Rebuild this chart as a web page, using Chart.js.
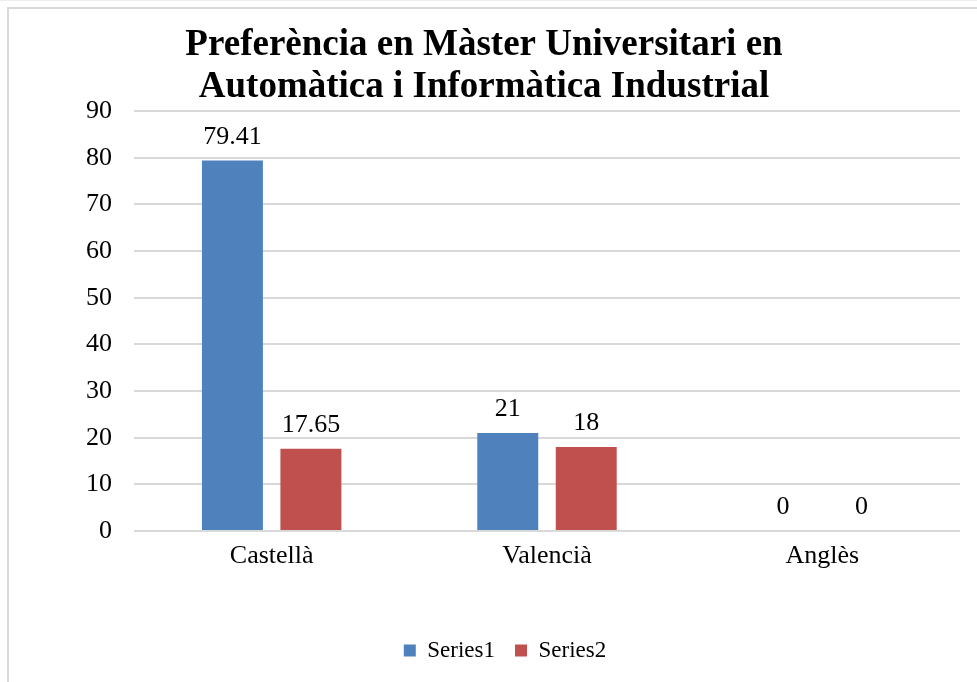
<!DOCTYPE html>
<html>
<head>
<meta charset="utf-8">
<title>Preferència en Màster</title>
<script src="https://cdn.jsdelivr.net/npm/chart.js@4/dist/chart.umd.min.js"></script>
<style>
  html, body { margin: 0; padding: 0; background: #fff; overflow: hidden; }
  #topLine { position: absolute; left: 0; top: 0; width: 977px; height: 1px; background: #eeeeee; }
  #frame { position: absolute; left: 7px; top: 7px; width: 1000px; height: 1000px; border: 2px solid #d9d9d9; }
  #chartCanvas { position: absolute; left: 0; top: 0; }
</style>
</head>
<body>
<div id="topLine"></div>
<div id="frame"></div>
<canvas id="chartCanvas" width="977" height="682"></canvas>
<script>
const chartTitle = ["Preferència en Màster Universitari en", "Automàtica i Informàtica Industrial"];
const categories = ["Castellà", "Valencià", "Anglès"];
const series1 = [79.41, 21, 0];
const series2 = [17.65, 18, 0];
const yTicks = [0, 10, 20, 30, 40, 50, 60, 70, 80, 90];

const serifFont = "'Liberation Serif', 'Times New Roman', serif";

// draws the value above each bar, like Excel data labels
const valueLabels = {
  id: "valueLabels",
  afterDatasetsDraw(chart) {
    const ctx = chart.ctx;
    ctx.save();
    ctx.font = "26px " + serifFont;
    ctx.fillStyle = "#000";
    ctx.textAlign = "center";
    ctx.textBaseline = "alphabetic";
    chart.data.datasets.forEach((dataset, i) => {
      const meta = chart.getDatasetMeta(i);
      meta.data.forEach((bar, j) => {
        ctx.fillText(String(dataset.data[j]), bar.x, bar.y - 17);
      });
    });
    ctx.restore();
  }
};

// Excel puts the legend a bit right of centre
const legendShift = {
  id: "legendShift",
  afterLayout(chart) {
    if (chart.legend) {
      chart.legend.left += 21;
      chart.legend.right += 21;
    }
  }
};

new Chart(document.getElementById("chartCanvas"), {
  type: "bar",
  data: {
    labels: categories,
    datasets: [
      { label: "Series1", data: series1, backgroundColor: "#4f81bd" },
      { label: "Series2", data: series2, backgroundColor: "#c0504d" }
    ]
  },
  options: {
    responsive: false,
    animation: false,
    events: [],
    barPercentage: 0.777,
    categoryPercentage: 0.57,
    layout: { padding: { top: 10, left: 8, right: 17, bottom: 10 } },
    plugins: {
      title: {
        display: true,
        text: chartTitle,
        color: "#000",
        font: { family: serifFont, size: 37, weight: "bold", lineHeight: 1.15 },
        padding: { top: 14, bottom: 2 }
      },
      legend: {
        position: "bottom",
        labels: {
          color: "#000",
          font: { family: serifFont, size: 23 },
          boxWidth: 12,
          boxHeight: 12,
          padding: 20
        }
      },
      tooltip: { enabled: false }
    },
    scales: {
      x: {
        grid: { display: false, drawTicks: false },
        border: { display: false },
        ticks: { color: "#000", font: { family: serifFont, size: 26 }, padding: 10 },
        afterFit(scale) { scale.height = 88; }
      },
      y: {
        min: 0,
        max: 90,
        afterBuildTicks(scale) { scale.ticks = yTicks.map(v => ({ value: v })); },
        grid: { color: "#d9d9d9", lineWidth: 2, drawTicks: false },
        border: { display: false },
        ticks: { color: "#000", font: { family: serifFont, size: 26 }, padding: 22 },
        afterFit(scale) { scale.width = 126; }
      }
    }
  },
  plugins: [valueLabels, legendShift]
});
</script>
</body>
</html>
